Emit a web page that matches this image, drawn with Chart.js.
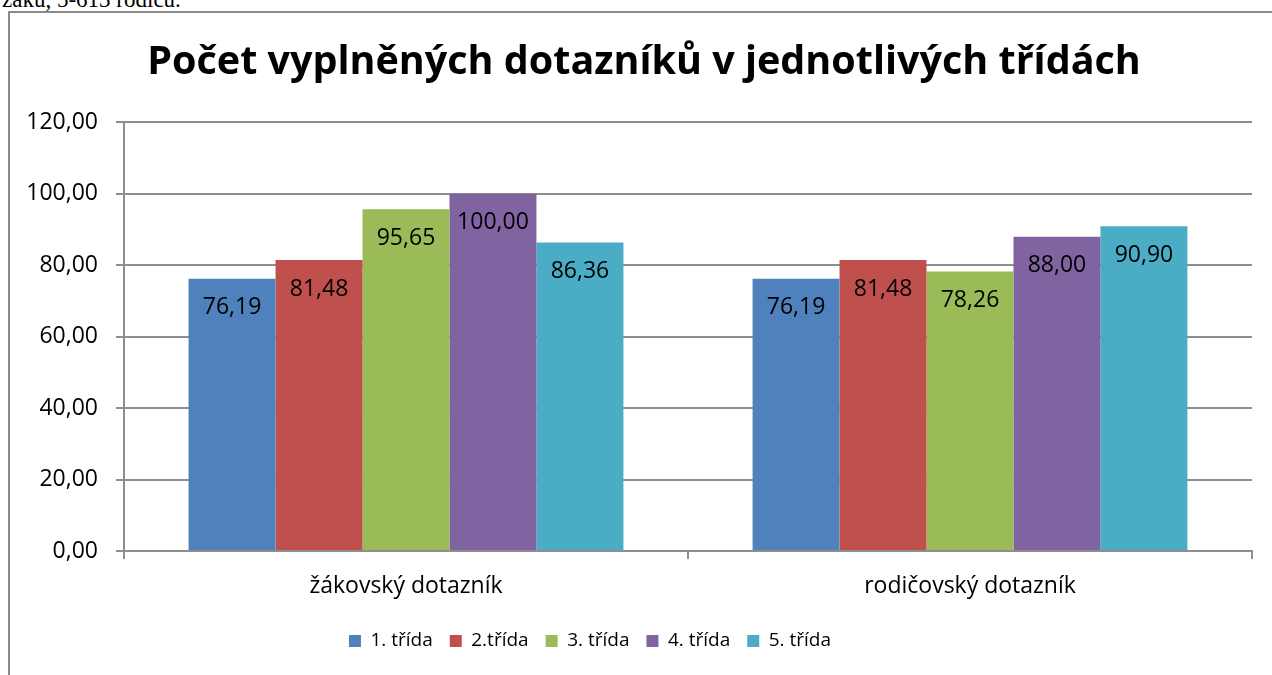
<!DOCTYPE html>
<html>
<head>
<meta charset="utf-8">
<script src="https://cdn.jsdelivr.net/npm/chart.js@4"></script>
<style>
  html, body { margin: 0; padding: 0; background: #fff; overflow: hidden; }
  body { width: 1272px; height: 675px; position: relative; }
  #note {
    position: absolute; left: 2px; top: -12px;
    font: 23px "Liberation Serif", serif; line-height: 23px; color: #000;
    white-space: nowrap;
  }
  #frame {
    position: absolute; left: 8px; top: 11px; width: 1270px; height: 670px;
    border-left: 2px solid #8a8a8a; border-top: 2px solid #8a8a8a;
  }
  #wrap { position: absolute; left: 10px; top: 13px; width: 1262px; height: 662px; }
</style>
</head>
<body>
<div id="note">žáků, 5-613 rodičů.</div>
<div id="frame"></div>
<div id="wrap"><canvas id="chart"></canvas></div>
<script>
// data
const categories = ["žákovský dotazník", "rodičovský dotazník"];
const seriesNames = ["1. třída", "2.třída", "3. třída", "4. třída", "5. třída"];
const trida1 = [76.19, 76.19];
const trida2 = [81.48, 81.48];
const trida3 = [95.65, 78.26];
const trida4 = [100.00, 88.00];
const trida5 = [86.36, 90.90];
const colors = ["#4F81BD", "#C0504D", "#9BBB59", "#8064A2", "#4BACC6"];
const yTicks = [0, 20, 40, 60, 80, 100, 120];

const FONT = "'Open Sans', 'DejaVu Sans', sans-serif";

function fmt(v) {
  return v.toFixed(2).replace(".", ",");
}

// value labels just under the top of each bar
const barLabels = {
  id: "barLabels",
  afterDatasetsDraw(chart) {
    const ctx = chart.ctx;
    ctx.save();
    ctx.font = "23px " + FONT;
    ctx.fillStyle = "#000";
    ctx.textAlign = "center";
    ctx.textBaseline = "middle";
    chart.data.datasets.forEach((ds, i) => {
      chart.getDatasetMeta(i).data.forEach((bar, j) => {
        ctx.fillText(fmt(ds.data[j]), bar.x, bar.y + 29);
      });
    });
    ctx.restore();
  }
};

// Excel puts the title a bit right and the legend a bit left of centre
const blockShift = {
  id: "blockShift",
  afterLayout(chart) {
    chart.titleBlock.left += 13;
    chart.titleBlock.right += 13;
    chart.legend.left -= 41;
    chart.legend.right -= 41;
  }
};

const seriesData = [trida1, trida2, trida3, trida4, trida5];

new Chart(document.getElementById("chart"), {
  type: "bar",
  data: {
    labels: categories,
    datasets: seriesNames.map((name, i) => ({
      label: name,
      data: seriesData[i],
      backgroundColor: colors[i],
      borderWidth: 0,
      categoryPercentage: 0.771,
      barPercentage: 1
    }))
  },
  options: {
    responsive: true,
    maintainAspectRatio: false,
    animation: false,
    layout: { padding: { top: 0, bottom: 14.5, left: 0, right: 20 } },
    plugins: {
      title: {
        display: true,
        text: "Počet vyplněných dotazníků v jednotlivých třídách",
        color: "#000",
        font: { family: FONT, size: 39.5, weight: "bold", lineHeight: 1.2 },
        padding: { top: 26, bottom: 36 }
      },
      legend: {
        position: "bottom",
        labels: {
          color: "#000",
          font: { family: FONT, size: 19 },
          boxWidth: 12,
          boxHeight: 12,
          padding: 17
        }
      },
      tooltip: { enabled: false }
    },
    scales: {
      x: {
        grid: { display: true, drawOnChartArea: false, color: "#8e8e8e", lineWidth: 2, tickLength: 8, offset: true },
        border: { color: "#8e8e8e", width: 2 },
        ticks: { color: "#000", font: { family: FONT, size: 23 }, padding: 14 },
        afterFit(scale) { scale.height = 63.5; }
      },
      y: {
        min: 0,
        max: 120,
        afterBuildTicks(scale) { scale.ticks = yTicks.map(v => ({ value: v })); },
        grid: { color: "#8e8e8e", lineWidth: 2, tickLength: 8 },
        border: { color: "#8e8e8e", width: 2 },
        ticks: { color: "#000", font: { family: FONT, size: 23 }, padding: 18, callback: v => fmt(v) },
        afterFit(scale) { scale.width = 114; }
      }
    }
  },
  plugins: [barLabels, blockShift]
});
</script>
</body>
</html>
